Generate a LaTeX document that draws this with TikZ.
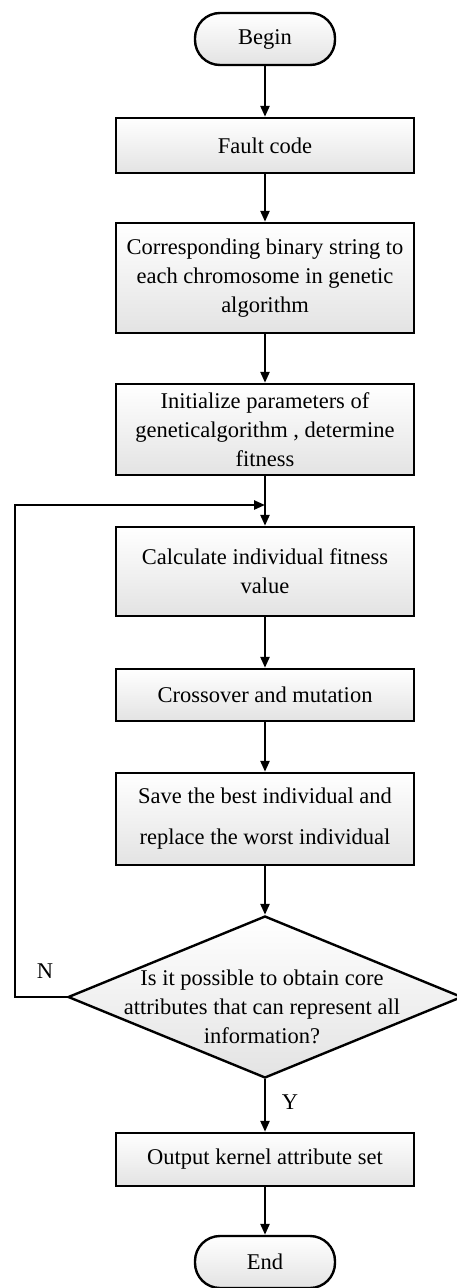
\documentclass[tikz,border=0pt]{standalone}
\usepackage{fontspec}
\setmainfont{Liberation Serif}
\usepackage{tikz}
\usetikzlibrary{arrows.meta,shapes.geometric}

\begin{document}
\begin{tikzpicture}[x=1pt,y=-1pt,line width=2.4pt,
  font=\fontsize{22.5}{29}\selectfont,
  flow/.style={-{Triangle[length=11pt,width=9pt]}},
  shade/.style={top color=white,bottom color=gray!22},
  stepbox/.style={draw,shade,align=center,minimum width=298pt,inner sep=0pt},
  terminal/.style={draw,shade,rounded corners=25pt,minimum width=140pt,minimum height=52pt,inner sep=0pt},
  decision/.style={draw,shade,diamond,minimum width=394pt,minimum height=162pt,inner sep=0pt}]
\useasboundingbox (0,0) rectangle (457,1288);
\node[terminal] (begin) at (265,39) {Begin};
\node[stepbox,minimum height=55pt] (fault) at (265,145.5) {Fault code};
\node[stepbox,minimum height=110pt] (corr) at (265,278) {Corresponding binary string to\\each chromosome in genetic\\algorithm};
\node[stepbox,minimum height=91pt] (init) at (265,429.5) {Initialize parameters of\\geneticalgorithm , determine\\fitness};
\node[stepbox,minimum height=89pt] (calc) at (265,571.5) {Calculate individual fitness\\value};
\node[stepbox,minimum height=52pt] (cross) at (265,695) {Crossover and mutation};
\node[stepbox,minimum height=92pt] (save) at (265,819) {Save the best individual and\\[12pt]replace the worst individual};
\node[decision] (dec) at (265,997) {};
\node[align=center] (dectext) at (262,1007) {Is it possible to obtain core\\attributes that can represent all\\information?};
\node[stepbox,minimum height=53pt] (out) at (265,1159.5) {Output kernel attribute set};
\node[terminal] (end) at (265,1262) {End};
% main flow
\foreach \a/\b in {begin/fault,fault/corr,corr/init,init/calc,calc/cross,cross/save,save/dec,dec/out,out/end}
  \draw[flow] (\a) -- (\b);
\node (yes) at (290,1102) {Y};
% loop back
\coordinate (join) at (265,505);
\coordinate (corner) at (15,997);
\draw[flow] (dec.west) -- (corner) |- (join);
\node (no) at (45,971) {N};
\end{tikzpicture}
\end{document}
